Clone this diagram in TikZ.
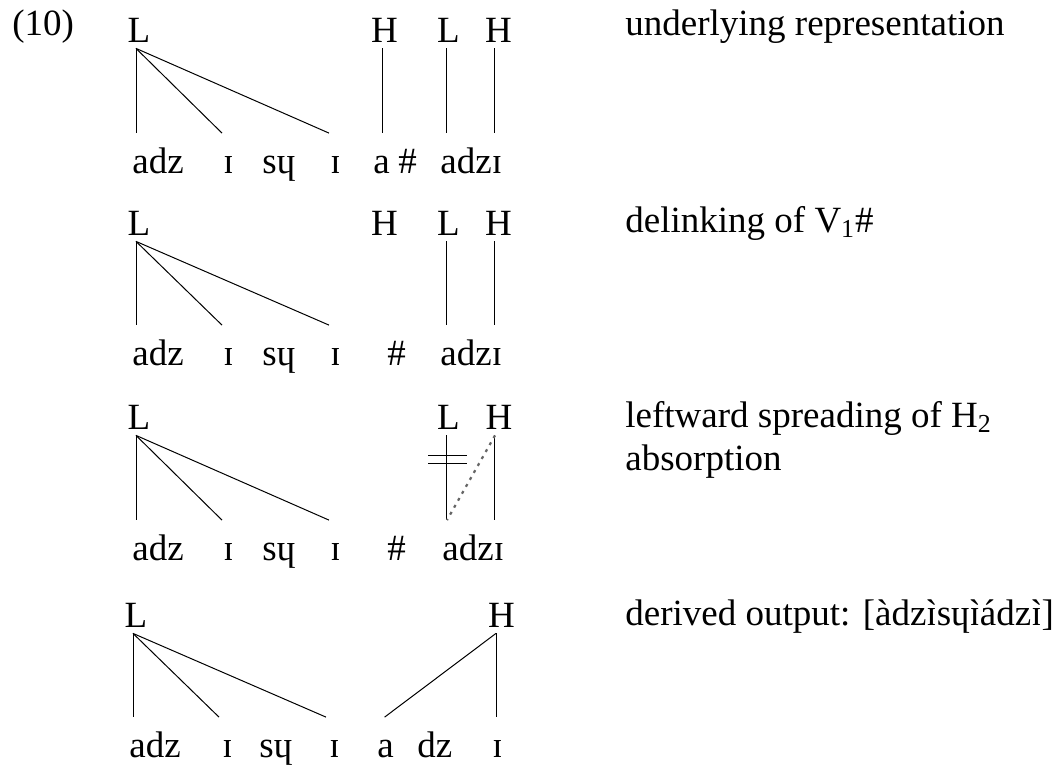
\documentclass[tikz,border=0pt]{standalone}
\usepackage{fontspec}
\setmainfont{Liberation Serif}
\usepackage{tikz}
\newcommand{\lowgrave}[1]{\ooalign{#1\cr\hidewidth ˋ\hidewidth\cr}}

\begin{document}
\begin{tikzpicture}[
        x=0.5pt, y=-0.5pt,
        font=\fontsize{18.5pt}{21.5pt}\selectfont,
        tone/.style={
                anchor=base,
                inner xsep=0pt,
                inner ysep=3pt
            },
        seg/.style={
                anchor=base west,
                inner sep=0pt,
                text height=19.75pt
            },
        gloss/.style={
                anchor=base west,
                inner sep=0pt,
                align=left
            },
        assoc/.style={line width=0.5pt},
        spread/.style={
                line width=1.1pt,
                gray!80!black,
                dash pattern=on 1.5pt off 2.5pt
            }
    ]
    \useasboundingbox (0,0) rectangle (1061,767);
    \node[gloss] (num) at (12,35) {(10)};

    %underlying representation
    \node[tone] (L1) at (139,42) {L};
    \node[tone] (H1) at (384.5,42) {H};
    \node[tone] (L1b) at (448.5,42) {L};
    \node[tone] (H1b) at (498.5,42) {H};
    \node[seg] (adz1) at (132,173) {adz};
    \node[seg] (i1) at (223,173) {ɪ};
    \node[seg] (sy1) at (262,173) {sɥ};
    \node[seg] (ii1) at (330,173) {ɪ};
    \node[seg] (a1) at (373,173) {a};
    \node[seg] (hash1) at (398,173) {\#};
    \node[seg] (adzi1) at (440,173) {adzɪ};
    \node[gloss] (g1) at (625,35) {underlying representation};
    \draw[assoc] ([xshift=-1.5pt]L1.south) -- ([xshift=2pt]adz1.north west);
    \draw[assoc] ([xshift=-1.5pt]L1.south) -- ([xshift=-0.5pt]i1.north west);
    \draw[assoc] ([xshift=-1.5pt]L1.south) -- ([xshift=-0.5pt]ii1.north west);
    \draw[assoc] ([xshift=-1.25pt]H1.south) -- ([xshift=-1.25pt]H1.south |- a1.north);
    \draw[assoc] ([xshift=-1.25pt]L1b.south) -- ([xshift=-1.25pt]L1b.south |- adzi1.north);
    \draw[assoc] ([xshift=-2.25pt]H1b.south) -- ([xshift=-2.25pt]H1b.south |- adzi1.north);

    %delinking
    \node[tone] (L2) at (139,235) {L};
    \node[tone] (H2) at (384.5,235) {H};
    \node[tone] (L2b) at (448.5,235) {L};
    \node[tone] (H2b) at (498.5,235) {H};
    \node[seg] (adz2) at (132,365) {adz};
    \node[seg] (i2) at (223,365) {ɪ};
    \node[seg] (sy2) at (262,365) {sɥ};
    \node[seg] (ii2) at (330,365) {ɪ};
    \node[seg] (hash2) at (387,365) {\#};
    \node[seg] (adzi2) at (440,365) {adzɪ};
    \node[gloss] (g2) at (625,232) {delinking of V\textsubscript{1}\#};
    \draw[assoc] ([xshift=-1.5pt]L2.south) -- ([xshift=2pt]adz2.north west);
    \draw[assoc] ([xshift=-1.5pt]L2.south) -- ([xshift=-0.5pt]i2.north west);
    \draw[assoc] ([xshift=-1.5pt]L2.south) -- ([xshift=-0.5pt]ii2.north west);
    \draw[assoc] ([xshift=-1.25pt]L2b.south) -- ([xshift=-1.25pt]L2b.south |- adzi2.north);
    \draw[assoc] ([xshift=-2.25pt]H2b.south) -- ([xshift=-2.25pt]H2b.south |- adzi2.north);

    %spreading
    \node[tone] (L3) at (139,429) {L};
    \node[tone] (L3b) at (448.5,429) {L};
    \node[tone] (H3) at (499,429) {H};
    \node[seg] (adz3) at (132,560) {adz};
    \node[seg] (i3) at (223,560) {ɪ};
    \node[seg] (sy3) at (262,560) {sɥ};
    \node[seg] (ii3) at (330,560) {ɪ};
    \node[seg] (hash3) at (387,560) {\#};
    \node[seg] (adzi3) at (442,560) {adzɪ};
    \node[gloss] (g3) at (625,470) {leftward spreading of H\textsubscript{2}\\absorption};
    \draw[assoc] ([xshift=-1.5pt]L3.south) -- ([xshift=2pt]adz3.north west);
    \draw[assoc] ([xshift=-1.5pt]L3.south) -- ([xshift=-0.5pt]i3.north west);
    \draw[assoc] ([xshift=-1.5pt]L3.south) -- ([xshift=-0.5pt]ii3.north west);
    \draw[assoc] ([xshift=-1.25pt]L3b.south) -- coordinate[pos=0.28] (cut)
        ([xshift=-1.25pt]L3b.south |- adzi3.north);
    \draw[assoc] ([xshift=-9pt,yshift=2pt]cut) -- ([xshift=10.5pt,yshift=2pt]cut);
    \draw[assoc] ([xshift=-9pt,yshift=-2pt]cut) -- ([xshift=10.5pt,yshift=-2pt]cut);
    \draw[assoc] ([xshift=-2.5pt]H3.south) -- ([xshift=-2.5pt]H3.south |- adzi3.north);
    \draw[spread] ([xshift=-2pt]H3.south) -- ([xshift=2.5pt]adzi3.north west);

    %derived output
    \node[tone] (L4) at (136,627) {L};
    \node[tone] (H4) at (501.5,627) {H};
    \node[seg] (adz4) at (129,757) {adz};
    \node[seg] (i4) at (222,757) {ɪ};
    \node[seg] (sy4) at (259,757) {sɥ};
    \node[seg] (ii4) at (329,757) {ɪ};
    \node[seg] (a4) at (377,757) {a};
    \node[seg] (dz4) at (417,757) {dz};
    \node[seg] (iii4) at (492,757) {ɪ};
    \node[gloss] (g4) at (625,625) {derived output: [àdz\lowgrave{ɪ}sɥ\lowgrave{ɪ}ádz\lowgrave{ɪ}]};
    \draw[assoc] ([xshift=-1.5pt]L4.south) -- ([xshift=2pt]adz4.north west);
    \draw[assoc] ([xshift=-1.5pt]L4.south) -- ([xshift=-1.5pt]i4.north west);
    \draw[assoc] ([xshift=-1.5pt]L4.south) -- ([xshift=-1.5pt]ii4.north west);
    \draw[assoc] ([xshift=-2.75pt]H4.south) -- ([xshift=-0.5pt]a4.north);
    \draw[assoc] ([xshift=-2.75pt]H4.south) -- ([xshift=-2.75pt]H4.south |- iii4.north);
\end{tikzpicture}
\end{document}
